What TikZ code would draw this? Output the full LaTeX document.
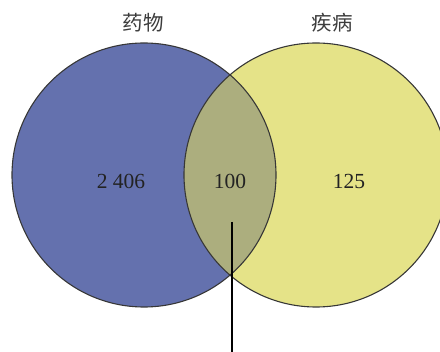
\documentclass[tikz,border=0pt]{standalone}
\usepackage{fontspec}
\setmainfont{Liberation Serif}
\newfontfamily\cjk{Noto Sans CJK SC}
\definecolor{blueC}{RGB}{100,113,174}
\definecolor{yellowC}{RGB}{229,227,136}
\definecolor{lensC}{RGB}{172,174,126}
\definecolor{edgeC}{RGB}{55,55,55}
\definecolor{txtC}{RGB}{35,35,35}
\definecolor{ttlC}{RGB}{60,60,60}
\begin{document}
\begin{tikzpicture}[x=1pt,y=-1pt,
  setcirc/.style={circle, minimum size=264pt, inner sep=0pt},
  num/.style={font=\fontsize{21.5}{25}\selectfont, text=txtC},
  title/.style={font=\cjk\fontsize{20.5}{24}\selectfont, text=ttlC}]
\useasboundingbox (0,0) rectangle (440,352);
\node[setcirc, fill=blueC] (A) at (144,175) {};
\node[setcirc, fill=yellowC] (B) at (316,175) {};
\begin{scope}
  \clip (144,175) circle (132pt);
  \fill[lensC] (316,175) circle (132pt);
\end{scope}
\node[setcirc, draw=edgeC, line width=1.1pt] at (144,175) {};
\node[setcirc, draw=edgeC, line width=1.1pt] at (316,175) {};
\node[title] (tA) at (143,23) {药物};
\node[title] (tB) at (332,23) {疾病};
\node[num] (nA) at (121,181) {2 406};
\node[num] (nAB) at (230,181) {100};
\node[num] (nB) at (349,181) {125};
\coordinate (ltop) at (232,222);
\coordinate (lbot) at (232,352);
\draw[line width=2pt, black] (ltop) -- (lbot);
\end{tikzpicture}
\end{document}
